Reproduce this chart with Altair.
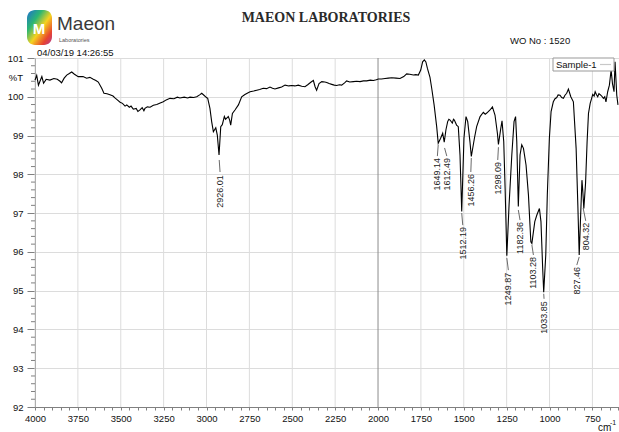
import altair as alt
import pandas as pd

# ---------------- data ----------------
wn = [4000, 3990, 3980, 3971, 3960, 3950, 3935, 3913, 3890, 3870, 3854, 3845, 3830, 3815,
      3800, 3786, 3770, 3748, 3720, 3699, 3680, 3660, 3645, 3631, 3611, 3598, 3580, 3563,
      3545, 3534, 3520, 3504, 3490, 3475, 3465, 3450, 3440, 3427, 3410, 3400, 3388, 3375,
      3365, 3359, 3345, 3329, 3310, 3290, 3270, 3252, 3235, 3213, 3190, 3170, 3155, 3130,
      3110, 3096, 3075, 3057, 3040, 3028, 3015, 3000, 2993, 2980, 2970, 2960, 2953, 2946,
      2937, 2927, 2917, 2908, 2896, 2889, 2882, 2873, 2865, 2859, 2849, 2834, 2814, 2795,
      2776, 2760, 2746, 2725, 2707, 2690, 2669, 2650, 2630, 2615, 2601, 2580, 2562, 2542,
      2520, 2503, 2485, 2465, 2445, 2426, 2410, 2390, 2377, 2367, 2358, 2344, 2328, 2310,
      2299, 2285, 2270, 2255, 2241, 2225, 2212, 2195, 2183, 2165, 2144, 2125, 2105, 2085,
      2066, 2045, 2027, 2010, 1998, 1980, 1959, 1940, 1920, 1895, 1872, 1850, 1833, 1815,
      1794, 1780, 1765, 1751, 1740, 1730, 1721, 1712, 1697, 1687, 1673, 1658, 1649, 1635,
      1623, 1614, 1604, 1594, 1587, 1580, 1567, 1560, 1555, 1542, 1532, 1522, 1512, 1499,
      1487, 1477, 1464, 1456, 1438, 1425, 1405, 1386, 1375, 1366, 1347, 1333, 1318, 1304,
      1298, 1284, 1277, 1267, 1259, 1249, 1236, 1220, 1207, 1198, 1191, 1182, 1172, 1162,
      1152, 1137, 1123, 1109, 1103, 1086, 1074, 1059, 1050, 1040, 1034, 1022, 1013, 1001,
      991, 978, 968, 958, 950, 939, 929, 919, 910, 900, 890, 876, 861, 845, 835, 827, 820,
      811, 806, 800, 790, 781, 773, 763, 755, 748, 740, 734, 726, 719, 712, 706, 696, 686,
      678, 671, 661, 651, 641, 633, 624, 618, 608, 601]
T = [100.43, 100.55, 100.30, 100.40, 100.52, 100.35, 100.45, 100.43, 100.47, 100.45, 100.40,
     100.36, 100.48, 100.56, 100.60, 100.64, 100.58, 100.52, 100.52, 100.48, 100.50, 100.45,
     100.42, 100.38, 100.22, 100.09, 100.08, 100.05, 100.02, 99.97, 99.92, 99.86, 99.83,
     99.76, 99.79, 99.73, 99.76, 99.68, 99.70, 99.62, 99.66, 99.72, 99.64, 99.70, 99.74,
     99.73, 99.78, 99.80, 99.84, 99.87, 99.92, 99.96, 99.95, 99.99, 99.97, 99.99, 99.97,
     99.99, 99.98, 100.00, 100.05, 100.09, 100.04, 99.98, 99.96, 99.70, 99.36, 99.10, 99.15,
     99.20, 99.01, 98.50, 99.23, 99.28, 99.49, 99.42, 99.45, 99.49, 99.40, 99.27, 99.57,
     99.66, 99.79, 100.00, 100.06, 100.10, 100.13, 100.15, 100.17, 100.19, 100.22, 100.21,
     100.25, 100.22, 100.20, 100.23, 100.25, 100.30, 100.28, 100.29, 100.28, 100.30, 100.27,
     100.26, 100.31, 100.38, 100.42, 100.26, 100.17, 100.34, 100.39, 100.38, 100.37, 100.34,
     100.32, 100.30, 100.29, 100.31, 100.30, 100.36, 100.41, 100.38, 100.39, 100.40, 100.39,
     100.41, 100.41, 100.43, 100.42, 100.44, 100.46, 100.46, 100.47, 100.48, 100.49, 100.48,
     100.47, 100.52, 100.59, 100.58, 100.56, 100.57, 100.56, 100.69, 100.90, 100.95, 100.90,
     100.73, 100.50, 100.22, 99.79, 99.23, 98.80, 98.93, 99.06, 98.83, 99.15, 99.36, 99.42,
     99.40, 99.32, 99.42, 99.40, 99.27, 99.23, 98.50, 97.04, 98.93, 99.49, 99.36, 98.84,
     98.46, 98.93, 99.23, 99.49, 99.60, 99.55, 99.58, 99.66, 99.74, 99.53, 99.06, 98.77,
     99.19, 99.38, 98.84, 97.64, 95.90, 97.21, 98.50, 99.36, 99.49, 98.84, 97.17, 98.50,
     98.76, 98.67, 98.24, 97.47, 96.26, 96.22, 96.78, 96.95, 97.12, 96.78, 95.58, 94.96,
     95.92, 97.47, 98.93, 99.62, 99.87, 99.95, 99.98, 100.05, 100.04, 99.98, 99.96, 100.04,
     100.09, 100.20, 100.00, 99.87, 98.67, 97.21, 95.92, 96.78, 97.85, 97.56, 97.12, 97.77,
     98.84, 99.57, 99.83, 99.95, 100.06, 100.02, 100.13, 100.05, 100.00, 100.08, 100.06,
     100.02, 99.96, 100.00, 99.87, 100.13, 100.30, 100.69, 100.34, 100.13, 100.90, 100.04,
     99.79]

peak_labels = ["2926.01", "1649.14", "1612.49", "1512.19", "1456.26", "1298.09",
               "1249.87", "1182.36", "1103.28", "1033.85", "827.46", "804.32"]
peak_wn = [2926, 1649, 1612, 1512, 1456, 1298, 1249, 1182, 1103, 1034, 827, 804]
label_wn = [2921, 1654, 1599, 1506, 1459, 1302, 1240, 1172, 1094, 1032, 841, 789]
lead_hi = [98.37, 98.76, 98.68, 97.00, 98.42, 98.70, 95.84, 97.08, 96.18, 94.92, 95.87, 97.13]
lead_lo = [98.06, 98.47, 98.47, 96.69, 98.06, 98.37, 95.53, 96.82, 95.92, 94.79, 95.66, 96.80]
label_top = [97.98, 98.42, 98.42, 96.64, 98.01, 98.32, 95.46, 96.77, 95.87, 94.73, 95.61, 96.75]

x_labels = [4000, 3750, 3500, 3250, 3000, 2750, 2500, 2250, 2000, 1750, 1500, 1250, 1000, 750]
y_labels = [92, 93, 94, 95, 96, 97, 98, 99, 100, 101]
x_ticks = list(range(4000, 599, -50))
y_minor = [round(92 + 0.2 * i, 1) for i in range(46) if i % 5 != 0]

# ---------------- styling ----------------
FONT = "'Liberation Sans Narrow', 'Liberation Sans', Arial, sans-serif"
W, H = 584, 349
xs = alt.Scale(domain=[4000, 595], nice=False, zero=False)
ys = alt.Scale(domain=[92, 101], nice=False, zero=False)
one = pd.DataFrame({"a": [0]})

spec_df = pd.DataFrame({"wn": wn, "T": T})
peaks_df = pd.DataFrame({"label": peak_labels, "pw": peak_wn, "lw": label_wn,
                         "hi": lead_hi, "lo": lead_lo, "top": label_top})

x_axis = alt.Axis(values=x_ticks, labelExpr="datum.value % 250 == 0 ? datum.label : ''",
                  format="d", labelFlush=False, labelOverlap=False, grid=False,
                  tickSize=3, tickColor="#808080", domainColor="#808080", labelPadding=3,
                  labelFont=FONT, labelFontSize=9.5, labelColor="#111", title=None)
y_axis = alt.Axis(values=y_labels, format="d", labelOverlap=False, grid=True,
                  gridColor="#dcdcdc", gridWidth=1,
                  tickSize=8, tickColor="#808080", domainColor="#808080", labelPadding=4,
                  labelFont=FONT, labelFontSize=9.5, labelColor="#111", title=None)

grid_v = alt.Chart(pd.DataFrame({"gx": [v for v in x_labels if v != 2000]})).mark_rule(
    color="#dcdcdc", strokeWidth=1).encode(x=alt.X("gx:Q", scale=xs, axis=x_axis, title=None))
grid_2000 = alt.Chart(pd.DataFrame({"gx": [2000]})).mark_rule(
    color="#8c8c8c", strokeWidth=1).encode(x=alt.X("gx:Q", scale=xs, axis=x_axis, title=None))
minor_y = alt.Chart(pd.DataFrame({"my": y_minor})).mark_rule(
    color="#808080", strokeWidth=1).encode(
    y=alt.Y("my:Q", scale=ys, axis=y_axis, title=None),
    x=alt.value(-4), x2=alt.value(0))

line = alt.Chart(spec_df).mark_line(color="black", strokeWidth=1.1).encode(
    x=alt.X("wn:Q", scale=xs, axis=x_axis, title=None),
    y=alt.Y("T:Q", scale=ys, axis=y_axis, title=None),
)

leaders = alt.Chart(peaks_df).mark_rule(color="#444", strokeWidth=0.8).encode(
    x=alt.X("pw:Q", scale=xs, axis=x_axis, title=None), x2="lw:Q",
    y=alt.Y("hi:Q", scale=ys, axis=y_axis, title=None), y2="lo:Q")
plabels = alt.Chart(peaks_df).mark_text(
    angle=270, align="right", baseline="middle", font=FONT, fontSize=9, color="#222"
).encode(x=alt.X("lw:Q", scale=xs, axis=x_axis, title=None),
         y=alt.Y("top:Q", scale=ys, axis=y_axis, title=None),
         text="label:N")


def txt(s, x, y, size=10, align="left", baseline="middle", font=FONT, weight="normal",
        color="#111"):
    return alt.Chart(one).mark_text(align=align, baseline=baseline, font=font,
                                    fontSize=size, fontWeight=weight, color=color).encode(
        x=alt.value(x), y=alt.value(y), text=alt.value(s))


title = txt("MAEON LABORATORIES", 291, -40, size=14, align="center",
            font="'Liberation Serif', 'DejaVu Serif', serif", weight="bold", color="#2a2a2a")
wo = txt("WO No : 1520", 475, -17, size=9.5)
date = txt("04/03/19 14:26:55", 2, -5, size=9.5)
pct = txt("%T", -12, 20, align="right", size=9.5)
maeon = txt("Maeon", 22, -28, size=19, baseline="alphabetic", color="#3a3a3a")
labs = txt("Laboratories", 24, -18, size=5.5, color="#555")
cm = txt("cm", 563, 373, size=10, baseline="alphabetic")
cm_sup = txt("-1", 575, 367, size=7, baseline="alphabetic")

logo = alt.Chart(one).mark_rect(cornerRadius=8).encode(
    x=alt.value(-8), x2=alt.value(17), y=alt.value(-48), y2=alt.value(-13),
    fill=alt.value({"x1": 0, "y1": 0, "x2": 1, "y2": 1, "gradient": "linear",
                    "stops": [{"offset": 0, "color": "#1f6fd1"},
                              {"offset": 0.3, "color": "#2bb673"},
                              {"offset": 0.55, "color": "#f5d21f"},
                              {"offset": 0.8, "color": "#e8442e"},
                              {"offset": 1, "color": "#b03a9a"}]}))
logo_m = txt("M", 4, -29, size=15, align="center", weight="bold", color="white",
             font="'Liberation Sans', sans-serif")

leg_box = alt.Chart(one).mark_rect(fill="white", stroke="#999", strokeWidth=1).encode(
    x=alt.value(518), x2=alt.value(579), y=alt.value(0), y2=alt.value(13))
leg_txt = txt("Sample-1", 521, 6.5, size=9.5)
leg_line = alt.Chart(one).mark_rule(color="#c8c8c8", strokeWidth=1.2).encode(
    x=alt.value(565), x2=alt.value(576), y=alt.value(6.5))

chart = alt.layer(
    grid_v, grid_2000, minor_y, line, leaders, plabels,
    leg_box, leg_txt, leg_line,
    title, wo, date, pct, maeon, labs, logo, logo_m, cm, cm_sup,
).properties(
    width=W, height=H, background="white",
    padding={"left": 35, "top": 58, "right": 0, "bottom": 25},
    autosize=alt.AutoSizeParams(type="none"),
).configure_view(stroke=None)

chart.save("out.html", embed_options={"renderer": "svg", "actions": False})
